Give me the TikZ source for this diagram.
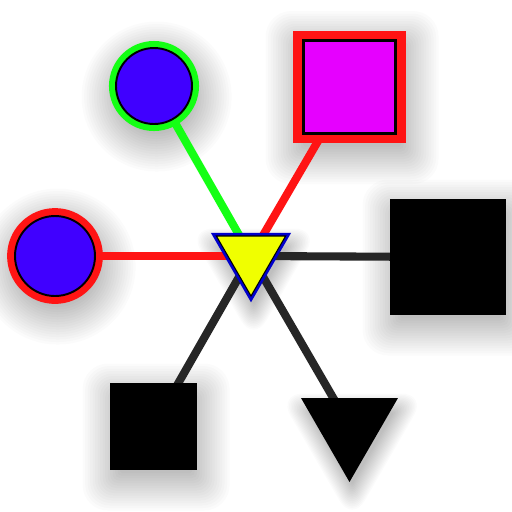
\documentclass[tikz,border=0pt]{standalone}
\usetikzlibrary{shapes.geometric,backgrounds}
\definecolor{ballblue}{RGB}{64,0,255}
\definecolor{boxpink}{RGB}{230,0,255}
\definecolor{hubyellow}{RGB}{240,255,0}
\definecolor{ringred}{RGB}{255,20,20}
\definecolor{ringgreen}{RGB}{20,255,20}
\pgfdeclarelayer{shade}
\pgfsetlayers{shade,background,main}
\newcommand\castshadow[3]{%
	\foreach \k in {0,...,15} {
		\node[#1,fill=black,opacity=0.017,inner sep=0pt,xshift=1.5pt,yshift=-6pt,
			rounded corners=1pt+\k*0.9pt,minimum size=#3-0.3cm+\k*0.1cm] at (#2) {};
	}}
\begin{document}
\begin{tikzpicture}[x=0.02cm,y=-0.02cm,
	tri/.style={regular polygon,regular polygon sides=3,shape border rotate=180,inner sep=0pt},
	link/.style={line width=4.6pt}]
	\useasboundingbox (0,0) rectangle (512,512);
	
	\node[tri,minimum size=1.6cm,fill=hubyellow,draw=black,line width=0.6pt,
		preaction={draw=blue!80!black,line width=3.6pt}] (hub) at (251,256) {};
	\node[circle,minimum size=1.52cm,fill=ballblue,draw=black,line width=1.1pt,
		preaction={draw=ringgreen,line width=8pt}] (gball) at (154,86) {};
	\node[circle,minimum size=1.6cm,fill=ballblue,draw=black,line width=1.1pt,
		preaction={draw=ringred,line width=9pt}] (rball) at (55,256) {};
	\node[rectangle,minimum size=1.86cm,fill=boxpink,draw=black,line width=1.7pt,
		preaction={draw=ringred,line width=11.3pt}] (pbox) at (349.5,87) {};
	\node[rectangle,minimum size=2.32cm,fill=black] (bigbox) at (448,257) {};
	\node[rectangle,minimum size=1.74cm,fill=black] (smallbox) at (153.5,426.5) {};
	\node[tri,minimum size=2.24cm,fill=black] (arrow) at (349.5,426) {};
	
	\begin{pgfonlayer}{shade}
		\fill[white] (0,0) rectangle (512,512);
		\castshadow{tri}{hub}{1.84cm}
		\castshadow{circle}{gball}{1.8cm}
		\castshadow{circle}{rball}{1.92cm}
		\castshadow{rectangle}{pbox}{2.26cm}
		\castshadow{rectangle}{bigbox}{2.32cm}
		\castshadow{rectangle}{smallbox}{1.74cm}
		\castshadow{tri}{arrow}{2.24cm}
	\end{pgfonlayer}
	
	\begin{pgfonlayer}{background}
		\draw[link,ringgreen] (hub.center) -- (gball.center);
		\draw[link,ringred] (hub.center) -- (pbox.center);
		\draw[link,ringred] (hub.center) -- (rball.center);
		\draw[link,black!85] (hub.center) -- (bigbox.center);
		\draw[link,black!85] (hub.center) -- (smallbox.center);
		\draw[link,black!85] (hub.center) -- (arrow.center);
	\end{pgfonlayer}
\end{tikzpicture}
\end{document}
